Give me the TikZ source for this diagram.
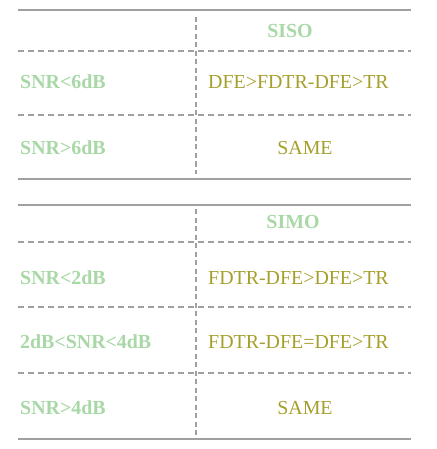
\documentclass[tikz,border=0pt]{standalone}
\usepackage{fontspec}
\setmainfont{Liberation Serif}
\definecolor{lgreen}{HTML}{A8D8A6}
\definecolor{olive}{HTML}{A59F2C}
\definecolor{rule}{HTML}{A0A0A0}
\tikzset{
  hrule/.style={draw=rule, line width=1.6pt},
  drule/.style={draw=rule, line width=1.2pt, dash pattern=on 6pt off 4pt},
  vrule/.style={draw=rule, line width=1.2pt, dash pattern=on 5pt off 3.5pt},
  lab/.style={font=\fontsize{19.9}{22}\selectfont\bfseries, text=lgreen, inner sep=0pt, anchor=west},
  head/.style={font=\fontsize{19.9}{22}\selectfont\bfseries, text=lgreen, inner sep=0pt},
  val/.style={font=\fontsize{19.9}{22}\selectfont, text=olive, inner sep=0pt},
}
\begin{document}
\begin{tikzpicture}[x=1pt,y=-1pt]
\useasboundingbox (0,0) rectangle (436,449);
% ---- table 1 ----
\coordinate (t1L) at (18,10); \coordinate (t1R) at (411,10);
\coordinate (a1L) at (18,51); \coordinate (a1R) at (411,51);
\coordinate (b1L) at (18,115); \coordinate (b1R) at (411,115);
\coordinate (e1L) at (18,179); \coordinate (e1R) at (411,179);
\coordinate (v1T) at (196,17); \coordinate (v1B) at (196,174);
\draw[hrule] (t1L) -- (t1R);
\draw[drule] (a1L) -- (a1R);
\draw[drule] (b1L) -- (b1R);
\draw[hrule] (e1L) -- (e1R);
\draw[vrule] (v1T) -- (v1B);
\node[head] (siso) at (290,31) {SISO};
\node[lab] (s1) at (20,82) {SNR<6dB};
\node[val, anchor=west] (r1) at (208,82) {DFE>FDTR-DFE>TR};
\node[lab] (s2) at (20,148) {SNR>6dB};
\node[val] (r2) at (305,148) {SAME};
% ---- table 2 ----
\coordinate (t2L) at (18,205); \coordinate (t2R) at (411,205);
\coordinate (a2L) at (18,242); \coordinate (a2R) at (411,242);
\coordinate (b2L) at (18,307); \coordinate (b2R) at (411,307);
\coordinate (c2L) at (18,373); \coordinate (c2R) at (411,373);
\coordinate (e2L) at (18,439); \coordinate (e2R) at (411,439);
\coordinate (v2T) at (196,209); \coordinate (v2B) at (196,435);
\draw[hrule] (t2L) -- (t2R);
\draw[drule] (a2L) -- (a2R);
\draw[drule] (b2L) -- (b2R);
\draw[drule] (c2L) -- (c2R);
\draw[hrule] (e2L) -- (e2R);
\draw[vrule] (v2T) -- (v2B);
\node[head] (simo) at (293,222) {SIMO};
\node[lab] (m1) at (20,278) {SNR<2dB};
\node[val, anchor=west] (q1) at (208,278) {FDTR-DFE>DFE>TR};
\node[lab] (m2) at (20,342) {2dB<SNR<4dB};
\node[val, anchor=west] (q2) at (208,342) {FDTR-DFE=DFE>TR};
\node[lab] (m3) at (20,408) {SNR>4dB};
\node[val] (q3) at (305,408) {SAME};
\end{tikzpicture}
\end{document}
